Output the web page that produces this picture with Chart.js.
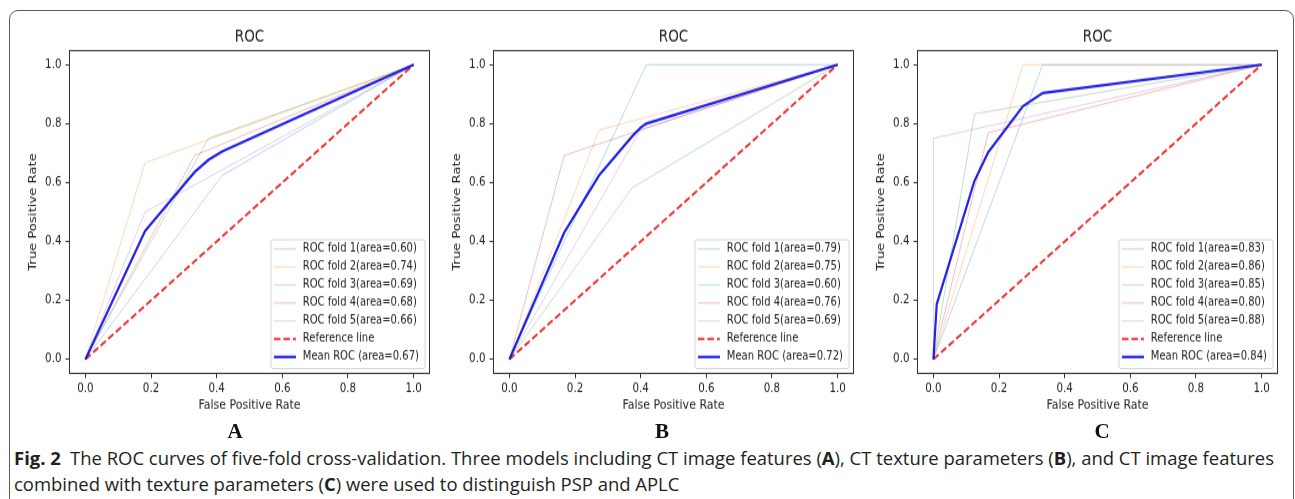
<!DOCTYPE html>
<html><head><meta charset="utf-8">
<script src="https://cdn.jsdelivr.net/npm/chart.js@4.4.1/dist/chart.umd.min.js"></script>
<style>
html,body{margin:0;padding:0;background:#fff;width:1295px;height:499px;overflow:hidden;position:relative}
.frame{position:absolute;left:9px;top:10px;width:1285px;height:600px;border:1px solid #5a5a5a;border-radius:9px;box-sizing:border-box}
canvas.roc{position:absolute}
.letter{position:absolute;top:431px;font-family:"Liberation Serif","Times New Roman",serif;font-weight:bold;font-size:21px;color:#111;transform:translate(-50%,-50%);line-height:1}
.cap{position:absolute;left:14px;font-family:"Open Sans",sans-serif;font-size:17.5px;line-height:20px;color:#231f20;white-space:nowrap;transform-origin:0 50%}
.cap b{font-weight:700}
</style></head>
<body>
<div class="frame"></div>
<canvas id="cA" class="roc" width="414" height="340" style="left:20px;top:14px;width:414px;height:408px"></canvas>
<canvas id="cB" class="roc" width="414" height="340" style="left:444px;top:14px;width:414px;height:408px"></canvas>
<canvas id="cC" class="roc" width="414" height="340" style="left:868px;top:14px;width:414px;height:408px"></canvas>
<div class="letter" style="left:235px">A</div>
<div class="letter" style="left:662px">B</div>
<div class="letter" style="left:1102px">C</div>
<div class="cap" id="cap1" style="top:448px"><b>Fig. 2</b>&ensp;The ROC curves of five-fold cross-validation. Three models including CT image features (<b>A</b>), CT texture parameters (<b>B</b>), and CT image features</div>
<div class="cap" id="cap2" style="top:474px">combined with texture parameters (<b>C</b>) were used to distinguish PSP and APLC</div>
<script>
// ---- data ----
const tickValues = [0.0, 0.2, 0.4, 0.6, 0.8, 1.0];
const foldNames = ['ROC fold 1', 'ROC fold 2', 'ROC fold 3', 'ROC fold 4', 'ROC fold 5'];
const refX = [0, 1];
const refY = [0, 1];

// Panel A: CT image features
const aFoldFpr = [[0, 0.417, 1], [0, 0.182, 1], [0, 0.375, 1], [0, 0.333, 1], [0, 0.182, 1]];
const aFoldTpr = [[0, 0.625, 1], [0, 0.667, 1], [0, 0.75, 1], [0, 0.692, 1], [0, 0.5, 1]];
const aFoldAuc = ['0.60', '0.74', '0.69', '0.68', '0.66'];
const aMeanFpr = [0, 0.182, 0.333, 0.375, 0.417, 1];
const aMeanTpr = [0, 0.436, 0.636, 0.677, 0.706, 1];
const aMeanAuc = '0.67';

// Panel B: CT texture parameters
const bFoldFpr = [[0, 0.417, 1], [0, 0.273, 1], [0, 0.375, 1], [0, 0.167, 1], [0, 0.4, 1]];
const bFoldTpr = [[0, 1, 1], [0, 0.778, 1], [0, 0.583, 1], [0, 0.692, 1], [0, 0.78, 1]];
const bFoldAuc = ['0.79', '0.75', '0.60', '0.76', '0.69'];
const bMeanFpr = [0, 0.167, 0.273, 0.375, 0.4, 0.417, 1];
const bMeanTpr = [0, 0.43, 0.624, 0.758, 0.787, 0.80, 1];
const bMeanAuc = '0.72';

// Panel C: combined
const cFoldFpr = [[0, 0.333, 1], [0, 0.273, 1], [0, 0.125, 1], [0, 0.167, 1], [0, 0, 1]];
const cFoldTpr = [[0, 1, 1], [0, 1, 1], [0, 0.833, 1], [0, 0.769, 1], [0, 0.75, 1]];
const cFoldAuc = ['0.83', '0.86', '0.85', '0.80', '0.88'];
const cMeanFpr = [0, 0.0101, 0.125, 0.167, 0.273, 0.333, 1];
const cMeanTpr = [0, 0.187, 0.605, 0.703, 0.859, 0.904, 1];
const cMeanAuc = '0.84';

// ---- styles ----
const foldColors = ['rgba(31,119,180,0.3)', 'rgba(255,127,14,0.3)', 'rgba(44,160,44,0.3)', 'rgba(214,39,40,0.3)', 'rgba(148,103,189,0.3)'];
const refColor = 'rgba(235,0,0,0.8)';
const meanColor = 'rgba(10,10,230,0.9)';
const textColor = '#222';

Chart.defaults.font.family = '"DejaVu Sans", sans-serif';
Chart.defaults.color = textColor;

function pts(xs, ys) { return xs.map((x, i) => ({x: x, y: ys[i]})); }

const framePlugin = {
  id: 'frameLegend',
  afterDatasetsDraw(chart) {
    const ca = chart.chartArea, ctx = chart.ctx;
    ctx.save();
    ctx.strokeStyle = '#333';
    ctx.lineWidth = 1;
    ctx.strokeRect(Math.round(ca.left) + 0.5, Math.round(ca.top) + 0.5, Math.round(ca.right - ca.left) - 1, Math.round(ca.bottom - ca.top) - 1);
    // legend
    const items = chart.data.datasets.map(d => ({label: d.label, color: d.borderColor, width: d.borderWidth, dash: d.borderDash || []}));
    ctx.font = '10px "DejaVu Sans"';
    const maxW = Math.max.apply(null, items.map(it => ctx.measureText(it.label).width));
    const w = 32.3 + maxW + 5.6;
    const h = 107.5;
    const right = ca.right - 5.5, bottom = ca.bottom - 5;
    const left = right - w, top = bottom - h;
    ctx.beginPath();
    if (ctx.roundRect) ctx.roundRect(left + 0.5, top + 0.5, w, h, 2); else ctx.rect(left + 0.5, top + 0.5, w, h);
    ctx.fillStyle = 'rgba(255,255,255,0.85)';
    ctx.fill();
    ctx.strokeStyle = '#d4d4d4';
    ctx.lineWidth = 1;
    ctx.stroke();
    items.forEach((it, i) => {
      const y = top + 8.3 + i * 15;
      ctx.beginPath();
      ctx.setLineDash(it.dash);
      ctx.strokeStyle = it.color;
      ctx.lineWidth = it.width;
      ctx.moveTo(left + 3.5, y);
      ctx.lineTo(left + 25.5, y);
      ctx.stroke();
      ctx.setLineDash([]);
      ctx.fillStyle = textColor;
      ctx.textAlign = 'left';
      ctx.textBaseline = 'middle';
      ctx.fillText(it.label, left + 32.3, y);
    });
    ctx.restore();
  }
};

function makeChart(id, foldFpr, foldTpr, foldAuc, meanFpr, meanTpr, meanAuc) {
  const datasets = [];
  foldFpr.forEach((fx, i) => {
    datasets.push({
      label: foldNames[i] + '(area=' + foldAuc[i] + ')',
      data: pts(fx, foldTpr[i]),
      borderColor: foldColors[i], borderWidth: 1, order: 2 + i
    });
  });
  datasets.push({label: 'Reference line', data: pts(refX, refY), borderColor: refColor, borderWidth: 2, borderDash: [6.5, 3], order: 1});
  datasets.push({label: 'Mean ROC (area=' + meanAuc + ')', data: pts(meanFpr, meanTpr), borderColor: meanColor, borderWidth: 2.2, order: 0});
  datasets.forEach(d => { d.showLine = true; d.pointRadius = 0; d.fill = false; d.tension = 0; d.backgroundColor = d.borderColor; });

  const setTicks = s => { s.ticks = tickValues.map(v => ({value: v})); };
  const tickFmt = v => Number(v).toFixed(1);

  return new Chart(document.getElementById(id), {
    type: 'scatter',
    data: {datasets: datasets},
    plugins: [framePlugin],
    options: {
      responsive: false, animation: false, devicePixelRatio: 1,
      layout: {padding: {left: 0, right: 4, top: 0, bottom: 0}},
      plugins: {legend: {display: false}, tooltip: {enabled: false}, title: {display: false}},
      scales: {
        x: {
          type: 'linear', position: 'bottom', min: -0.05, max: 1.05,
          afterBuildTicks: setTicks,
          afterFit: s => { s.height = 40; },
          grid: {display: true, drawOnChartArea: false, drawTicks: true, tickLength: 3.5, color: '#333'},
          border: {display: false},
          ticks: {callback: tickFmt, font: {size: 10.3}, padding: 2.2, maxRotation: 0, autoSkip: false},
          title: {display: true, text: 'False Positive Rate', font: {size: 11}, padding: {top: 0, bottom: 7.6}}
        },
        xTop: {
          type: 'linear', position: 'top', min: 0, max: 1,
          afterFit: s => { s.height = 30; },
          grid: {display: false}, border: {display: false}, ticks: {display: false},
          title: {display: true, text: 'ROC', font: {size: 13.5}, padding: {top: 11.1, bottom: 0}}
        },
        y: {
          type: 'linear', position: 'left', min: -0.05, max: 1.05,
          afterBuildTicks: setTicks,
          afterFit: s => { s.width = 49; },
          grid: {display: true, drawOnChartArea: false, drawTicks: true, tickLength: 3.5, color: '#333'},
          border: {display: false},
          ticks: {callback: tickFmt, font: {size: 10.3}, padding: 4, autoSkip: false},
          title: {display: true, text: 'True Positive Rate', font: {size: 11}, padding: {top: 7, bottom: 0}}
        }
      }
    }
  });
}

makeChart('cA', aFoldFpr, aFoldTpr, aFoldAuc, aMeanFpr, aMeanTpr, aMeanAuc);
makeChart('cB', bFoldFpr, bFoldTpr, bFoldAuc, bMeanFpr, bMeanTpr, bMeanAuc);
makeChart('cC', cFoldFpr, cFoldTpr, cFoldAuc, cMeanFpr, cMeanTpr, cMeanAuc);

// fit caption line 1 to the reference width
(function () {
  const c1 = document.getElementById('cap1'), c2 = document.getElementById('cap2');
  const w = c1.getBoundingClientRect().width;
  const f = 1260 / w;
  c1.style.transform = 'scaleX(' + f + ')';
  c2.style.transform = 'scaleX(' + f + ')';
})();
</script>
</body></html>
